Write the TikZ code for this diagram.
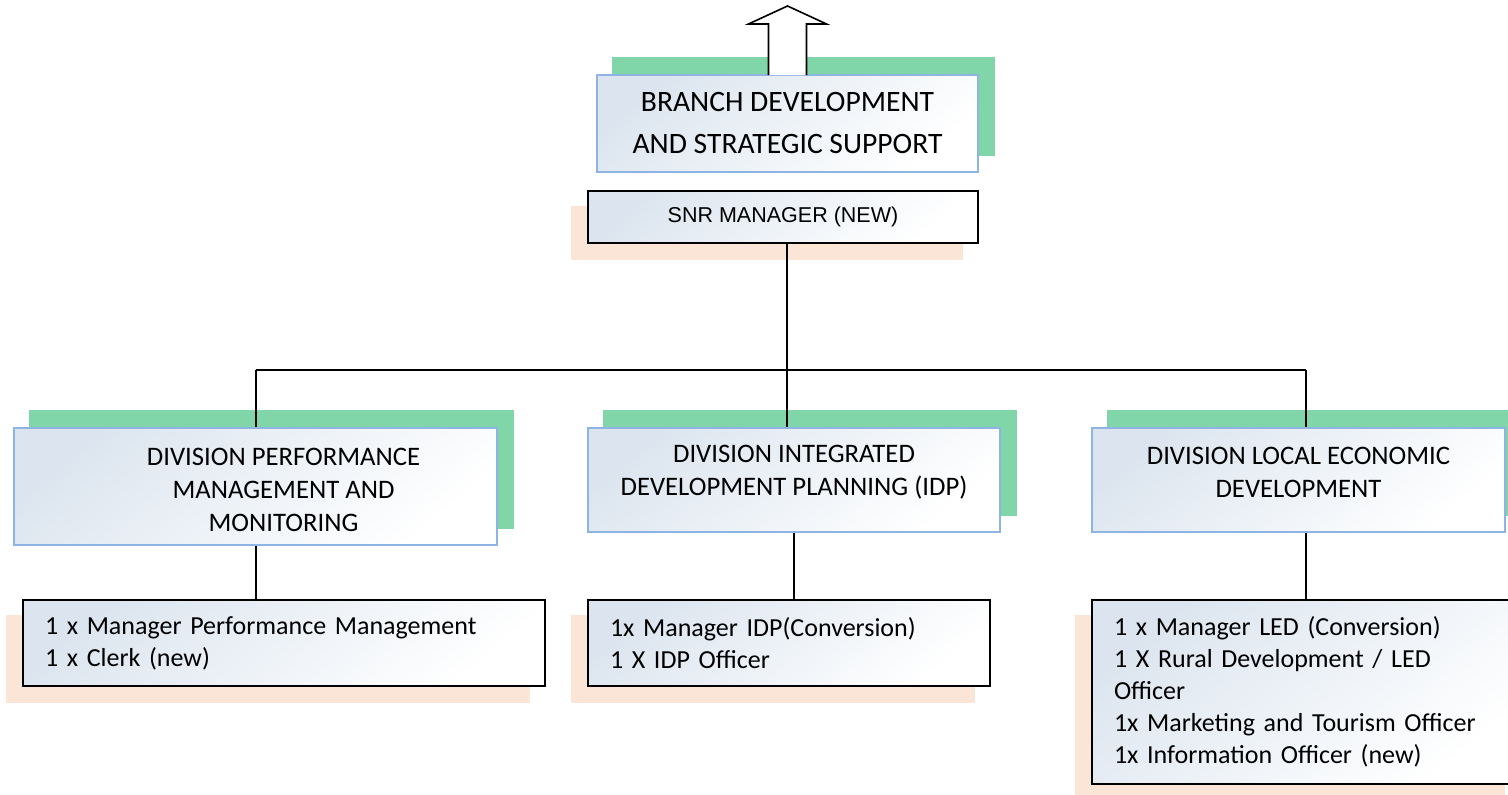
\documentclass[tikz,border=0pt]{standalone}
\usepackage{fontspec}
\setmainfont{Carlito}
\newfontfamily\arialfont{Liberation Sans}
\usetikzlibrary{calc,backgrounds}

\definecolor{shadegreen}{HTML}{80D6A8}
\definecolor{shadepeach}{HTML}{FBE5D6}
\definecolor{edgeblue}{HTML}{8EB4E3}
\definecolor{fillblue}{HTML}{DCE5EF}

\tikzset{
  unitbox/.style={line width=2pt,top color=fillblue,bottom color=white,shading angle=40,inner sep=0pt},
  blueunit/.style={unitbox,draw=edgeblue},
  blackunit/.style={unitbox,draw=black},
  divtext/.style={align=center,font=\fontsize{26.7}{33}\selectfont},
  stafftext/.style={blackunit,align=left,inner xsep=22pt,font=\fontsize{26}{32}\selectfont},
  orgline/.style={line width=2pt},
}

\begin{document}
\begin{tikzpicture}[x=1pt,y=-1pt]
  \useasboundingbox (0,0) rectangle (1508,795);

  \node[blueunit,minimum width=381pt,minimum height=97pt,align=center,
        font=\fontsize{29.6}{42}\selectfont] (branch) at (787.5,123.5)
        {BRANCH DEVELOPMENT\\AND STRATEGIC SUPPORT};
  \node[blackunit,minimum width=390pt,minimum height=52pt,
        font=\arialfont\fontsize{21.5}{25}\selectfont] (snr) at (783,217) {SNR MANAGER (NEW)};

  \node[blueunit,minimum width=483pt,minimum height=117pt] (perf) at (255.5,486.5) {};
  \node[blueunit,minimum width=412pt,minimum height=104pt] (idp) at (794,480) {};
  \node[blueunit,minimum width=413pt,minimum height=104pt] (led) at (1298.5,480) {};
  \node[divtext] (perflabel) at ($(perf)+(28,3)$) {DIVISION PERFORMANCE\\MANAGEMENT AND\\MONITORING};
  \node[divtext] (idplabel) at ($(idp)+(0,-8)$) {DIVISION INTEGRATED\\DEVELOPMENT PLANNING (IDP)};
  \node[divtext] (ledlabel) at ($(led)+(0,-8)$) {DIVISION LOCAL ECONOMIC\\DEVELOPMENT};

  \node[stafftext,text width=478pt,minimum height=86pt] (perfstaff) at (284,643)
        {1 x Manager Performance Management\\1 x Clerk (new)};
  \node[stafftext,text width=358pt,minimum height=86pt] (idpstaff) at (789,643)
        {1x Manager IDP(Conversion)\\1 X IDP Officer};
  \node[stafftext,text width=384pt,minimum height=184pt] (ledstaff) at (1306,692)
        {1 x Manager LED (Conversion)\\1 X Rural Development / LED\\Officer\\
         1x Marketing and Tourism Officer\\1x Information Officer (new)};

  \begin{scope}[on background layer]
    \foreach \n in {branch,perf,idp,led}
      \fill[shadegreen] ($(\n.south west)+(16,-17)$) rectangle ($(\n.north east)+(16,-17)$);
    \foreach \n in {snr,perfstaff,idpstaff,ledstaff}
      \fill[shadepeach] ($(\n.south west)+(-16,16)$) rectangle ($(\n.north east)+(-16,16)$);
  \end{scope}

  \draw[line width=1.6pt,fill=white] ($(branch.north)+(-19,1)$) -- ++(0,-51) -- ++(-20,0)
    -- ($(branch.north)+(0,-68)$) -- ($(branch.north)+(39,-50)$) -- ++(-20,0) -- ($(branch.north)+(19,1)$);

  \coordinate (bus) at (787,370);
  \draw[orgline] (bus |- snr.south) -- (bus);
  \draw[orgline] (perf.north |- bus) -- (ledstaff.north |- bus);
  \draw[orgline] (perf.north |- bus) -- (perf.north);
  \draw[orgline] (bus) -- (bus |- idp.north);
  \draw[orgline] (ledstaff.north |- bus) -- (ledstaff.north |- led.north);
  \draw[orgline] (perf.south) -- (perf.south |- perfstaff.north);
  \draw[orgline] (idp.south) -- (idp.south |- idpstaff.north);
  \draw[orgline] (ledstaff.north |- led.south) -- (ledstaff.north);
\end{tikzpicture}
\end{document}
